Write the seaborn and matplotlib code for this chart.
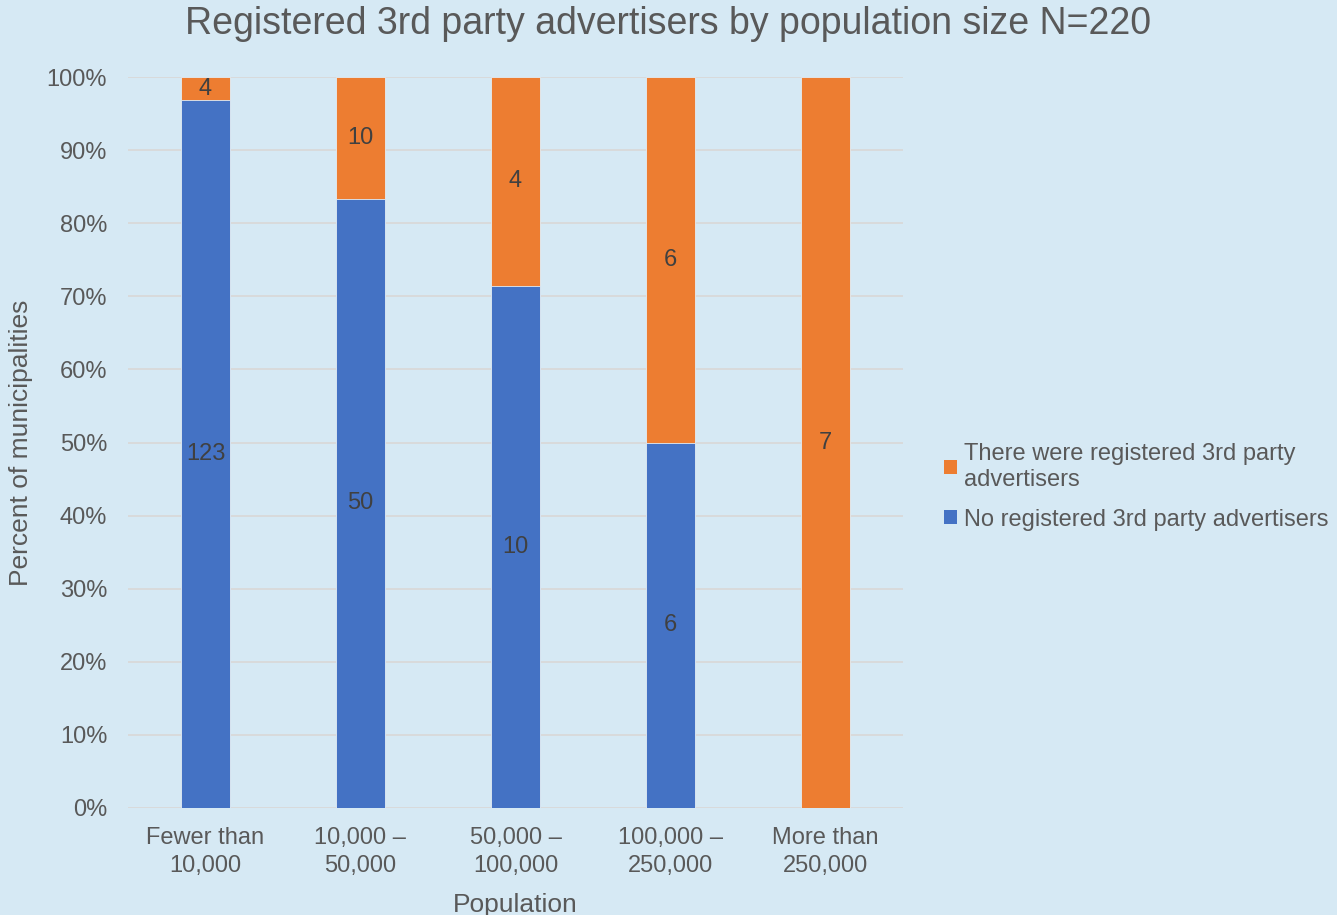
"""
Stacked percent bar chart: registered 3rd party advertisers by population size.
"""

import numpy as np
import pandas as pd
import matplotlib
matplotlib.use("Agg")
import matplotlib.pyplot as plt
from matplotlib.patches import Patch
import seaborn as sns

# Data
categories = ["Fewer than\n10,000", "10,000 –\n50,000", "50,000 –\n100,000",
              "100,000 –\n250,000", "More than\n250,000"]
no_advertisers = [123, 50, 10, 6, 0]
yes_advertisers = [4, 10, 4, 6, 7]

series_no = "No registered 3rd party advertisers"
series_yes = "There were registered 3rd party\nadvertisers"

BG = "#D6E9F4"
BLUE = "#4472C4"
ORANGE = "#ED7D31"
TEXT = "#595959"
LABEL = "#404040"

sns.set_theme(style="whitegrid")
plt.rcParams["font.family"] = ["Liberation Sans", "DejaVu Sans"]

no_arr = np.array(no_advertisers, dtype=float)
yes_arr = np.array(yes_advertisers, dtype=float)
total = no_arr + yes_arr
pct_no = no_arr / total * 100
pct_yes = yes_arr / total * 100

df = pd.DataFrame({
    "Population": categories,
    "no_pct": pct_no,
    "stack_top": pct_no + pct_yes,
})

fig = plt.figure(figsize=(13.37, 9.15), dpi=100)
fig.patch.set_facecolor(BG)
ax = fig.add_axes([128 / 1337, 1 - 808 / 915, 775 / 1337, 731 / 915])
ax.set_facecolor(BG)

# orange is drawn full height, blue on top of it -> stacked look
sns.barplot(data=df, x="Population", y="stack_top", color=ORANGE, width=0.316,
            saturation=1, edgecolor="#E3EDF5", linewidth=0.6, ax=ax)
sns.barplot(data=df, x="Population", y="no_pct", color=BLUE, width=0.316,
            saturation=1, edgecolor="#E3EDF5", linewidth=0.6, ax=ax)

FS = 17

# segment labels
for i in range(len(categories)):
    if no_arr[i] > 0:
        ax.text(i, pct_no[i] / 2, f"{int(no_arr[i])}", ha="center", va="center",
                fontsize=FS, color=LABEL)
    if yes_arr[i] > 0:
        ax.text(i, pct_no[i] + pct_yes[i] / 2, f"{int(yes_arr[i])}", ha="center",
                va="center", fontsize=FS, color=LABEL)

ax.set_xlim(-0.5, len(categories) - 0.5)
ax.set_ylim(0, 100)
ax.set_yticks(np.arange(0, 101, 10))
ax.set_yticklabels([f"{v}%" for v in range(0, 101, 10)])
ax.grid(axis="y", color="#D9D9D9", linewidth=1.3)
ax.grid(axis="x", visible=False)
ax.set_axisbelow(True)
for s in ax.spines.values():
    s.set_visible(False)

ax.tick_params(axis="y", length=0, pad=15, labelsize=FS, labelcolor=TEXT)
ax.tick_params(axis="x", length=0, pad=14, labelsize=FS, labelcolor=TEXT)
for lbl in ax.get_xticklabels():
    lbl.set_linespacing(1.35)

ax.set_xlabel("Population", fontsize=19, color=TEXT, labelpad=11)
ax.set_ylabel("Percent of municipalities", fontsize=19, color=TEXT, labelpad=10)

fig.suptitle("Registered 3rd party advertisers by population size N=220",
             fontsize=27, color=TEXT, y=1 - 24 / 915, va="center")

handles = [Patch(facecolor=ORANGE, edgecolor="none", label=series_yes),
           Patch(facecolor=BLUE, edgecolor="none", label=series_no)]
leg = fig.legend(handles=handles, loc="center left",
                 bbox_to_anchor=(923 / 1337, 1 - 487 / 915), frameon=False,
                 fontsize=FS, handlelength=0.55, handleheight=0.55,
                 handletextpad=0.3, labelspacing=0.75, labelcolor=TEXT)

fig.savefig("out.png", dpi=100, facecolor=fig.get_facecolor())
plt.close(fig)
